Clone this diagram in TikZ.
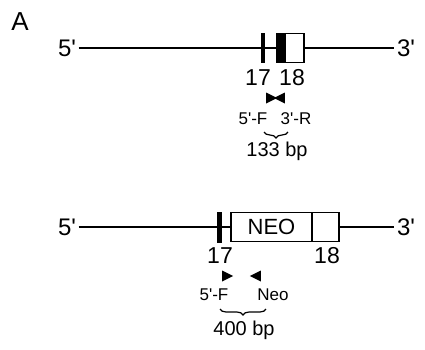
\documentclass[tikz,border=0pt]{standalone}
\usepackage{fontspec}
\setmainfont{Liberation Sans}
\usetikzlibrary{shapes.geometric, positioning, decorations.pathreplacing}
\newcommand{\ap}{\textquotesingle}
\tikzset{
  extremo/.style={inner sep=2.5pt, font=\fontsize{24}{28}\selectfont},
  numexon/.style={inner sep=0pt, font=\fontsize{23}{27}\selectfont},
  cebador/.style={inner sep=0pt, font=\fontsize{17}{20}\selectfont},
  tamano/.style={inner sep=0pt, font=\fontsize{20}{24}\selectfont},
  barra/.style={rectangle, fill=black, inner sep=0pt, minimum width=4.5pt, minimum height=30pt},
  caja/.style={rectangle, draw=black, fill=white, line width=1.3pt, inner sep=0pt, minimum height=29pt},
  flechad/.style={isosceles triangle, isosceles triangle stretches, fill=black, inner sep=0pt,
                  minimum width=11pt, minimum height=11pt},
  flechai/.style={flechad, shape border rotate=180},
  cromo/.style={line width=1.5pt},
  llave/.style={decorate, decoration={brace, mirror, amplitude=6pt}, line width=1.2pt}
}
\begin{document}
\begin{tikzpicture}[x=1pt, y=-1pt]
  \useasboundingbox (0,0) rectangle (425,349);
  \node (letra) [font=\fontsize{26}{30}\selectfont, inner sep=0pt] at (20,22) {A};
  % alelo silvestre
  \node (c5a) [extremo] at (67,48) {5\ap};
  \node (c3a) [extremo] at (406,48) {3\ap};
  \draw [cromo] (c5a.east) -- (c3a.west);
  \node (e17a) [barra] at (263,48) {};
  \node (e18a) [caja, minimum width=27pt] at (290.5,48) {};
  \node (e18an) [barra, minimum width=9pt, minimum height=30pt] at (281.5,48) {};
  \node (n17a) [numexon] at (258,78) {17};
  \node (n18a) [numexon] at (292,78) {18};
  \node (fa) [flechad] at (269.5,98) {};
  \node (ra) [flechai] at (281.5,98) {};
  \node (lfa) [cebador] at (253,119) {5\ap-F};
  \node (lra) [cebador] at (296,119) {3\ap-R};
  \coordinate (b1a) at (264,132);
  \coordinate (b2a) at (288,132);
  \draw [llave] (b1a) -- (b2a);
  \node (pba) [tamano] at (277,151) {133 bp};
  % alelo con NEO
  \node (c5b) [extremo] at (67,227) {5\ap};
  \node (c3b) [extremo] at (406,227) {3\ap};
  \draw [cromo] (c5b.east) -- (c3b.west);
  \node (e17b) [barra, minimum width=5pt, minimum height=31pt] at (219.5,227) {};
  \node (neo) [caja, minimum width=81pt, font=\fontsize{22}{26}\selectfont] at (271.5,227) {NEO};
  \node (e18b) [caja, minimum width=27pt, right=0pt of neo, xshift=-1.3pt] {};
  \node (n17b) [numexon] at (220,256) {17};
  \node (n18b) [numexon] at (327,256) {18};
  \node (fb) [flechad] at (225.5,276) {};
  \node (rb) [flechai] at (257.5,276) {};
  \node (lfb) [cebador] at (214,295) {5\ap-F};
  \node (lrb) [cebador] at (273,295) {Neo};
  \coordinate (b1b) at (220,309);
  \coordinate (b2b) at (266,309);
  \draw [llave] (b1b) -- (b2b);
  \node (pbb) [tamano] at (244,330) {400 bp};
\end{tikzpicture}
\end{document}
